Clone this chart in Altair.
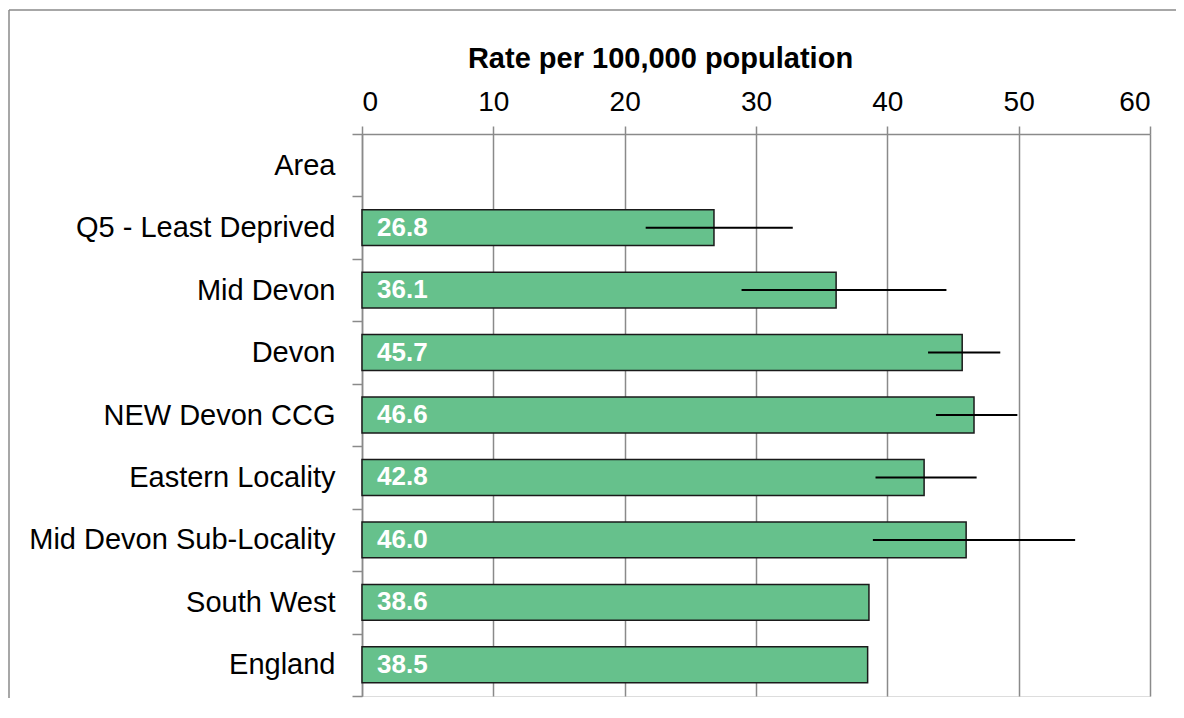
import altair as alt
import pandas as pd

areas = ["Area", "Q5 - Least Deprived", "Mid Devon", "Devon", "NEW Devon CCG",
         "Eastern Locality", "Mid Devon Sub-Locality", "South West", "England"]
rates = [None, 26.8, 36.1, 45.7, 46.6, 42.8, 46.0, 38.6, 38.5]
lower_ci = [None, 21.6, 28.9, 43.1, 43.7, 39.1, 38.9, None, None]
upper_ci = [None, 32.8, 44.5, 48.6, 49.9, 46.8, 54.3, None, None]
x_ticks = [0, 10, 20, 30, 40, 50, 60]

df = pd.DataFrame({"area": areas, "rate": rates, "lo": lower_ci, "hi": upper_ci})
bars_df = df.dropna(subset=["rate"])
ci_df = df.dropna(subset=["lo"])

FONT = "Liberation Sans"
GRID = "#8a8a8a"

y_enc = alt.Y("area:N", sort=areas,
              scale=alt.Scale(domain=areas, paddingInner=0, paddingOuter=0),
              axis=alt.Axis(title=None, labelFontSize=29, labelColor="black", labelFont=FONT,
                            tickBand="extent", tickSize=10, tickColor=GRID, tickWidth=1.5,
                            labelPadding=17, domainColor=GRID, domainWidth=1.5, grid=False,
                            labelLimit=400))

x_scale = alt.Scale(domain=[0, 60], nice=False)
x_axis = alt.Axis(orient="top", values=x_ticks, title="Rate per 100,000 population",
                  titleFontSize=29, titleFont=FONT, titleFontWeight="bold", titleColor="black",
                  titleX=298, titleY=-67, titleAlign="center", titleBaseline="alphabetic",
                  labelFontSize=28, labelFont=FONT, labelColor="black",
                  labelPadding=10, tickSize=8, tickColor=GRID, tickWidth=1.5,
                  domainColor=GRID, domainWidth=1.5, grid=True, gridColor=GRID, gridWidth=1.5)

bars = alt.Chart(bars_df).mark_bar(
    color="#66c18c", stroke="#1a1a1a", strokeWidth=1.5, height={"band": 0.575}
).encode(
    x=alt.X("rate:Q", scale=x_scale, axis=x_axis),
    y=y_enc,
)

err = alt.Chart(ci_df).mark_rule(color="black", strokeWidth=2).encode(
    x=alt.X("lo:Q", scale=x_scale),
    x2="hi:Q",
    y=alt.Y("area:N", sort=areas),
)

labels = alt.Chart(bars_df).mark_text(
    align="left", baseline="alphabetic", dx=15, dy=8, color="white",
    fontSize=26, fontWeight="bold", font=FONT
).encode(
    x=alt.datum(0),
    y=alt.Y("area:N", sort=areas),
    text=alt.Text("rate:Q", format=".1f"),
)

one = pd.DataFrame({"k": [0]})
frame_left = alt.Chart(one).mark_rule(color=GRID, strokeWidth=1.5).encode(
    x=alt.value(-353), y=alt.value(-124), y2=alt.value(1000)
)
frame_top = alt.Chart(one).mark_rule(color=GRID, strokeWidth=1.5).encode(
    x=alt.value(-353), x2=alt.value(1000), y=alt.value(-124)
)

chart = alt.layer(frame_left, frame_top, bars, err, labels).properties(
    width=788, height=562,
    autosize=alt.AutoSizeParams(type="none"),
    padding={"left": 354, "top": 126, "right": 26, "bottom": 2},
).configure_view(stroke=None).configure(font=FONT, background="white")

chart.save("out.html", embed_options={"renderer": "svg", "actions": False})
